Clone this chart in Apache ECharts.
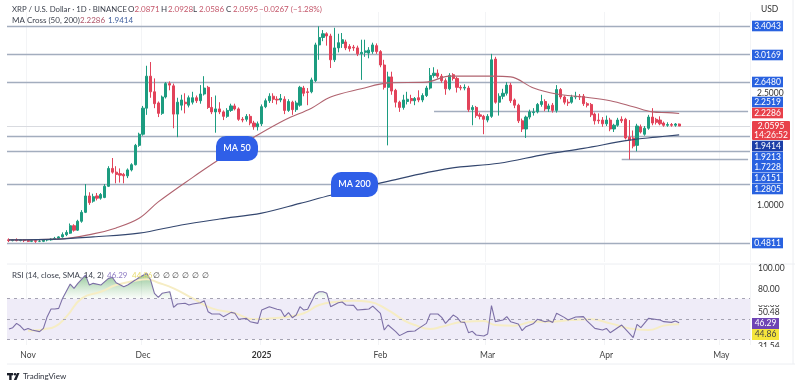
<!DOCTYPE html>
<html><head><meta charset="utf-8">
<style>html,body{margin:0;padding:0;background:#fff}#c{width:800px;height:387px}</style>
<script src="https://cdn.jsdelivr.net/npm/echarts@6/dist/echarts.min.js"></script>
</head><body><div id="c"></div>
<script>
const categories = [
'10-27','10-28','10-29','10-30','10-31',
'11-01','11-02','11-03','11-04','11-05','11-06','11-07','11-08','11-09','11-10','11-11','11-12','11-13','11-14','11-15','11-16','11-17','11-18','11-19','11-20','11-21','11-22','11-23','11-24','11-25','11-26','11-27','11-28','11-29','11-30',
'12-01','12-02','12-03','12-04','12-05','12-06','12-07','12-08','12-09','12-10','12-11','12-12','12-13','12-14','12-15','12-16','12-17','12-18','12-19','12-20','12-21','12-22','12-23','12-24','12-25','12-26','12-27','12-28','12-29','12-30','12-31',
'01-01','01-02','01-03','01-04','01-05','01-06','01-07','01-08','01-09','01-10','01-11','01-12','01-13','01-14','01-15','01-16','01-17','01-18','01-19','01-20','01-21','01-22','01-23','01-24','01-25','01-26','01-27','01-28','01-29','01-30','01-31',
'02-01','02-02','02-03','02-04','02-05','02-06','02-07','02-08','02-09','02-10','02-11','02-12','02-13','02-14','02-15','02-16','02-17','02-18','02-19','02-20','02-21','02-22','02-23','02-24','02-25','02-26','02-27','02-28',
'03-01','03-02','03-03','03-04','03-05','03-06','03-07','03-08','03-09','03-10','03-11','03-12','03-13','03-14','03-15','03-16','03-17','03-18','03-19','03-20','03-21','03-22','03-23','03-24','03-25','03-26','03-27','03-28','03-29','03-30','03-31',
'04-01','04-02','04-03','04-04','04-05','04-06','04-07','04-08','04-09','04-10','04-11','04-12','04-13','04-14','04-15','04-16','04-17','04-18','04-19','04-20','04-21','04-22','04-23','04-24','04-25','04-26','04-27','04-28','04-29','04-30',
'05-01','05-02','05-03','05-04','05-05','05-06','05-07','05-08'];
const monthLabels = {'11-01':'Nov','12-01':'Dec','01-01':'2025','02-01':'Feb','03-01':'Mar','04-01':'Apr','05-01':'May'};
// open, close, low, high
const candles = [
[.53,.52,.50,.55],[.52,.53,.51,.54],[.53,.52,.51,.55],[.52,.53,.51,.54],[.53,.52,.50,.54],[.52,.51,.50,.53],[.51,.52,.50,.53],[.52,.51,.49,.52],[.51,.51,.50,.53],[.51,.53,.50,.54],
[.53,.53,.51,.54],[.53,.54,.52,.55],[.54,.55,.53,.57],[.55,.57,.54,.58],[.57,.60,.56,.63],[.60,.63,.58,.66],[.62,.72,.61,.75],[.72,.66,.64,.74],[.66,.78,.65,.80],[.78,.90,.76,.93],
[.90,1.12,.89,1.28],[1.12,1.03,1.00,1.17],[1.05,1.11,1.03,1.15],[1.12,1.09,1.06,1.16],[1.09,1.14,1.07,1.16],[1.10,1.25,1.09,1.28],[1.25,1.49,1.24,1.52],[1.49,1.44,1.42,1.63],[1.44,1.41,1.29,1.52],[1.42,1.40,1.30,1.49],
[1.41,1.39,1.29,1.43],[1.39,1.47,1.36,1.49],[1.47,1.54,1.45,1.56],[1.54,1.80,1.53,1.82],[1.80,1.95,1.78,1.97],[1.95,2.30,1.93,2.33],[2.30,2.73,2.21,2.87],[2.73,2.52,2.44,2.92],[2.52,2.36,2.30,2.70],[2.37,2.23,2.18,2.39],
[2.23,2.45,2.21,2.47],[2.45,2.63,2.43,2.65],[2.63,2.61,2.54,2.66],[2.60,2.22,2.03,2.63],[2.22,2.38,1.91,2.44],[2.34,2.41,2.27,2.48],[2.38,2.36,2.23,2.50],[2.34,2.44,2.31,2.47],[2.38,2.44,2.35,2.52],[2.44,2.40,2.37,2.47],
[2.40,2.49,2.36,2.61],[2.49,2.57,2.47,2.73],[2.58,2.31,2.29,2.60],[2.31,2.25,2.22,2.45],[2.25,2.29,1.97,2.47],[2.29,2.25,2.22,2.38],[2.25,2.19,2.14,2.27],[2.19,2.27,2.17,2.30],[2.27,2.33,2.25,2.36],[2.33,2.29,2.27,2.36],
[2.29,2.15,2.13,2.31],[2.15,2.14,2.11,2.18],[2.15,2.19,2.12,2.22],[2.19,2.10,2.07,2.22],[2.10,2.05,2.01,2.13],[2.05,2.09,2.00,2.12],[2.09,2.32,2.06,2.35],[2.32,2.40,2.30,2.43],[2.40,2.46,2.37,2.50],[2.46,2.42,2.37,2.50],
[2.42,2.41,2.35,2.46],[2.41,2.43,2.38,2.49],[2.42,2.27,2.22,2.46],[2.27,2.39,2.25,2.42],[2.38,2.28,2.21,2.40],[2.28,2.37,2.25,2.40],[2.34,2.58,2.32,2.60],[2.57,2.50,2.46,2.60],[2.52,2.51,2.34,2.57],[2.52,2.68,2.50,2.71],
[2.67,3.15,2.65,3.18],[3.15,3.25,2.95,3.40],[3.25,3.30,3.20,3.35],[3.30,3.27,3.14,3.32],[3.27,2.95,2.84,3.30],[2.95,3.11,2.92,3.38],[3.11,3.18,3.05,3.30],[3.17,3.22,3.11,3.31],[3.19,3.11,3.08,3.22],[3.13,3.10,3.06,3.16],
[3.12,3.11,3.07,3.15],[3.11,3.03,3.00,3.14],[3.03,3.05,2.68,3.22],[3.05,3.07,2.99,3.22],[3.04,3.08,2.97,3.12],[3.06,3.15,3.03,3.18],[3.14,3.06,3.03,3.17],[3.06,2.88,2.85,3.08],[2.88,2.58,2.55,2.95],[2.58,2.72,1.80,2.79],
[2.72,2.53,2.48,2.79],[2.54,2.38,2.31,2.56],[2.38,2.31,2.25,2.40],[2.31,2.41,2.28,2.48],[2.39,2.42,2.35,2.52],[2.43,2.40,2.36,2.48],[2.40,2.43,2.34,2.45],[2.44,2.41,2.38,2.54],[2.41,2.47,2.38,2.50],[2.47,2.57,2.45,2.60],
[2.57,2.74,2.55,2.84],[2.74,2.77,2.71,2.85],[2.77,2.73,2.70,2.82],[2.73,2.67,2.64,2.76],[2.67,2.56,2.48,2.70],[2.56,2.74,2.54,2.77],[2.75,2.70,2.67,2.77],[2.70,2.58,2.51,2.72],[2.58,2.57,2.54,2.61],[2.57,2.58,2.54,2.62],
[2.57,2.28,2.25,2.60],[2.28,2.31,2.07,2.34],[2.31,2.20,2.17,2.33],[2.21,2.19,2.15,2.24],[2.19,2.15,1.95,2.21],[2.14,2.19,2.11,2.22],[2.19,2.95,2.17,3.03],[2.96,2.38,2.36,2.99],[2.38,2.46,2.20,2.50],[2.46,2.50,2.42,2.56],
[2.50,2.61,2.47,2.65],[2.61,2.40,2.37,2.64],[2.41,2.34,2.30,2.43],[2.34,2.13,2.10,2.36],[2.13,2.02,1.98,2.16],[2.02,2.18,1.90,2.20],[2.18,2.25,2.15,2.28],[2.24,2.25,2.20,2.30],[2.25,2.35,2.23,2.37],[2.35,2.39,2.32,2.48],
[2.39,2.29,2.26,2.42],[2.29,2.33,2.25,2.36],[2.34,2.27,2.24,2.37],[2.27,2.55,2.24,2.61],[2.55,2.45,2.42,2.57],[2.45,2.38,2.35,2.47],[2.38,2.37,2.33,2.42],[2.38,2.45,2.36,2.48],[2.45,2.46,2.42,2.52],[2.46,2.45,2.41,2.49],
[2.46,2.36,2.33,2.49],[2.36,2.34,2.31,2.38],[2.35,2.21,2.18,2.37],[2.22,2.13,2.08,2.24],[2.14,2.13,2.09,2.23],[2.14,2.09,2.05,2.18],[2.09,2.14,2.06,2.20],[2.14,2.02,1.99,2.17],[2.02,2.07,1.98,2.09],[2.07,2.14,2.05,2.17],
[2.15,2.13,2.10,2.19],[2.15,1.90,1.88,2.17],[1.91,1.87,1.61,2.14],[1.90,1.79,1.76,2.00],[1.80,2.06,1.72,2.09],[2.05,1.98,1.96,2.08],[1.95,2.03,1.93,2.06],[2.03,2.18,2.01,2.21],[2.18,2.10,2.07,2.30],[2.15,2.11,2.08,2.17],
[2.14,2.09,2.07,2.19],[2.10,2.07,2.05,2.12],[2.07,2.08,2.05,2.11],[2.08,2.07,2.05,2.10],[2.07,2.0871,2.05,2.10],[2.0871,2.0595,2.0586,2.0928]];
// readings: [day index, value]
const ma50 = [[0,.53],[13,.54],[22,.61],[28,.69],[34,.82],[39,1.04],[48,1.37],[54,1.58],[59,1.75],[64,1.91],[72,2.14],[79,2.30],[84,2.45],[92,2.56],[99,2.64],[109,2.65],[115,2.73],[120,2.73],[126,2.73],[131,2.72],[137,2.57],[143,2.49],[150,2.45],[157,2.40],[163,2.32],[168,2.25],[172,2.24],[175,2.2286]];
const ma200 = [[0,.53],[13,.54],[22,.57],[34,.62],[45,.73],[55,.81],[66,.89],[76,1.02],[84,1.13],[100,1.33],[115,1.49],[128,1.56],[140,1.68],[150,1.76],[162,1.87],[169,1.91],[175,1.9414]];
const rsi = [[0,40.2],[1,41.5],[2,45.7],[3,43.1],[4,39.2],[5,40.8],[6,39.2],[8,37.6],[9,40.8],[10,52.3],[11,59.8],[12,59.8],[13,60.4],[14,70.2],[16,84.3],[17,80.1],[18,85],[20,93.1],[21,83.3],[22,85],[24,83.3],[26,89.9],[27,90.8],[28,85.6],[30,81.7],[31,83.3],[33,88.2],[34,90.8],[36,94.8],[37,88.2],[38,75.2],[39,71.2],[40,75.2],[42,76.8],[43,61.4],[44,64.7],[46,65.4],[47,63.7],[48,64.7],[50,66],[51,68],[52,57.2],[53,54.9],[55,54.9],[56,52.3],[58,56.5],[59,55.6],[60,49.7],[62,50.6],[63,47.4],[65,45.7],[66,58.8],[68,62],[70,59.5],[71,58.8],[72,52.3],[73,56.2],[74,51.3],[75,53.9],[76,62.1],[77,58.8],[78,59.5],[80,74.5],[81,76.8],[82,76.8],[83,75.2],[84,62.1],[86,66],[87,66.7],[88,63.7],[90,63.4],[91,58.8],[93,59.5],[94,59.8],[95,62.7],[97,55.6],[98,39.2],[99,44.1],[101,37.6],[102,33.7],[104,37.6],[106,38.2],[107,40.8],[109,45.7],[110,54.9],[112,54.9],[113,51.6],[114,45.7],[116,53.9],[117,51.6],[118,47],[119,46.7],[120,36.6],[121,37.9],[122,34.3],[124,33.3],[125,35.3],[126,63.1],[127,47.4],[129,49],[130,52.3],[131,47.4],[133,45.1],[134,38.6],[135,42.5],[137,45.7],[138,49.7],[140,47.4],[141,48.4],[142,46.7],[143,55.6],[145,51.6],[146,49],[148,52],[150,52.3],[151,48],[153,40.8],[155,39.2],[156,40.8],[157,36.6],[160,44.1],[162,36],[163,31.7],[164,44.8],[165,41.5],[167,50.6],[170,49],[171,47.4],[173,46.7],[174,48],[175,46.29]];
const rsiMa = [[5,38.5],[8,39.2],[9,39.9],[12,42.5],[15,52.3],[19,70.2],[24,76.8],[28,83.3],[33,87.6],[36,88.9],[39,85.6],[43,80.1],[48,70.2],[53,60.4],[59,55.6],[64,49.7],[68,50.6],[73,52.3],[77,55.6],[81,63.7],[86,67],[90,68],[94,67],[99,58.8],[103,49],[106,44.1],[110,40.2],[113,42.5],[119,47.4],[124,48],[127,44.1],[132,43.5],[137,47.4],[141,47.4],[147,49],[152,49.7],[157,45.7],[162,40.8],[167,39.2],[171,43.5],[175,44.86]];
const fullLevels = [3.4043,3.0169,2.6480,1.9213,1.7228,1.2805,0.4811];
const partLevels = [[111,2.2519],[160,1.6151]];
const lastPrice = 2.0595;
const rsiLevels = [70,50,30];
const rsiBand = [70,30];

const font = 'Lato, "Noto Sans", sans-serif';
const UP = '#1c9c80', DOWN = '#e2435a', LEVEL = '#a3adbe';
const tagX = 752, tagW = 31, tagH = 10.6;
// label text, centre row in px, fill
const tagRows = [
 ['3.4043',26,'#2962e0'],['3.0169',55,'#2962e0'],['2.6480',82,'#2962e0'],['2.2519',102,'#2962e0'],['2.2286',113,'#e8404a'],
 ['1.9414',146,'#1c3fa8'],['1.9213',157,'#2962e0'],['1.7228',167,'#2962e0'],['1.6151',178,'#2962e0'],['1.2805',189,'#2962e0'],['0.4811',243,'#2962e0']];

function txt(x,y,s,fill,extra){return {type:'text',z:20,style:Object.assign({x:x,y:y,text:s,fill:fill,fontSize:8.5,fontFamily:font,textVerticalAlign:'middle'},extra||{})};}
const h = {fontSize:8};
const g = [];
g.push(txt(12,9,'XRP / U.S. Dollar · 1D · BINANCE','#3a3f4b',{fontSize:7.8}));
g.push(txt(128,9,'O','#3a3f4b',h),txt(134.5,9,'2.0871','#c4566a',h));
g.push(txt(161,9,'H','#3a3f4b',h),txt(168,9,'2.0928','#c4566a',h));
g.push(txt(193,9,'L','#3a3f4b',h),txt(199,9,'2.0586','#c4566a',h));
g.push(txt(226,9,'C','#3a3f4b',h),txt(233,9,'2.0595','#c4566a',h));
g.push(txt(259,9,'−0.0267 (−1.28%)','#c4566a',h));
g.push(txt(12,20,'MA Cross (50, 200)','#3a3f4b',h),txt(80,20,'2.2286','#b0566a',h),txt(108,20,'1.9414','#3f5f9e',h));
g.push(txt(761,9,'USD','#333'));
// price tags
tagRows.forEach(r=>{
 g.push({type:'rect',z:18,shape:{x:tagX,y:r[1]-tagH/2,width:tagW,height:tagH},style:{fill:r[2]}});
 g.push(txt(tagX+tagW/2,r[1],r[0],'#fff',{textAlign:'center'}));
});
g.push({type:'rect',z:18,shape:{x:752,y:121,width:38,height:19,r:1},style:{fill:'#e8404a'}});
g.push(txt(771,126,'2.0595','#fff',{textAlign:'center'}),txt(771,135,'14:26:52','#fff',{textAlign:'center'}));
// bubbles
[['MA 50',216,136,42,25],['MA 200',331,172,47,25]].forEach(b=>{
 g.push({type:'rect',z:15,shape:{x:b[1],y:b[2],width:b[3],height:b[4],r:[10,10,10,1]},style:{fill:'#2f5fe8'}});
 g.push(txt(b[1]+b[3]/2,b[2]+b[4]/2,b[0],'#fff',{textAlign:'center',fontSize:9,fontWeight:600}));
});
// RSI texts
g.push(txt(12,275,'RSI (14, close, SMA, 14, 2)','#3a3f4b',h),txt(107,275,'46.29','#8f7cc4',h),txt(132,275,'44.86','#e8dc70',h));
[156,166,175,185,195,205].forEach(x=>g.push(txt(x,275,'∅','#444',{textAlign:'center',fontSize:8})));
g.push(txt(758,268,'100.00','#333'),txt(758,289,'80.00','#333'),txt(758,312,'50.48','#333'));
g.push(txt(758,304,'60.00','#333'),{type:'rect',z:21,shape:{x:755,y:296,width:30,height:9},style:{fill:'#fff'}});
g.push(txt(758,346,'31.54','#333'),{type:'rect',z:21,shape:{x:755,y:347,width:30,height:6},style:{fill:'#fff'}});
g.push({type:'rect',z:18,shape:{x:752,y:318,width:27,height:11},style:{fill:'#6f45b5'}},txt(765.5,323.5,'46.29','#fff',{textAlign:'center'}));
g.push({type:'rect',z:18,shape:{x:752,y:329,width:27,height:11},style:{fill:'#f5e63c'}},txt(765.5,334.5,'44.86','#444',{textAlign:'center'}));
// frame lines
[[7,264,795,264],[7,364,795,364],[793,0,793,364]].forEach(l=>g.push({type:'line',z:1,shape:{x1:l[0],y1:l[1],x2:l[2],y2:l[3]},style:{stroke:'#eceef2',lineWidth:1}}));
// brand
g.push({type:'rect',z:5,shape:{x:7,y:373,width:6,height:2.4},style:{fill:'#1b1f2a'}});
g.push({type:'rect',z:5,shape:{x:9.2,y:373,width:2.4,height:7},style:{fill:'#1b1f2a'}});
g.push({type:'circle',z:5,shape:{cx:15,cy:374.3,r:1.3},style:{fill:'#1b1f2a'}});
g.push({type:'polygon',z:5,shape:{points:[[17,373],[19.5,373],[16.5,380],[13.8,380]]},style:{fill:'#1b1f2a'}});
g.push(txt(23,376.5,'TradingView','#30343f',{fontSize:8}));

const isMonth = (i,v)=>monthLabels[v]!==undefined;
const pair = a=>a.map(p=>[p[0],p[1]]);
const chart = echarts.init(document.getElementById('c'),null,{renderer:'canvas'});
chart.setOption({
 animation:false,backgroundColor:'#fff',
 grid:[{left:7,width:743,top:12,height:250},{left:7,width:743,top:265,height:80}],
 xAxis:[
  {type:'category',gridIndex:0,data:categories,boundaryGap:true,axisLine:{show:false},axisTick:{show:false},axisLabel:{show:false},
   splitLine:{show:true,interval:isMonth,lineStyle:{color:'#f3f4f6',width:1}}},
  {type:'category',gridIndex:1,data:categories,boundaryGap:true,axisLine:{show:false},axisTick:{show:false},
   axisLabel:{interval:isMonth,hideOverlap:false,margin:6,fontFamily:font,fontSize:8.5,color:'#444',
     formatter:v=>v==='01-01'?'{b|2025}':(monthLabels[v]||''),rich:{b:{fontWeight:'bold',fontSize:8.5,color:'#333',fontFamily:font}}},
   splitLine:{show:true,interval:isMonth,lineStyle:{color:'#f3f4f6',width:1}}}
 ],
 yAxis:[
  {type:'value',gridIndex:0,position:'right',min:0.2324,max:3.5925,axisLine:{show:false},axisTick:{show:false},splitLine:{show:false},
   axisLabel:{customValues:[1,2.5],formatter:v=>v.toFixed(4),fontFamily:font,fontSize:8.5,color:'#333',margin:7}},
  {type:'value',gridIndex:1,position:'right',min:24.5,max:103,axisLine:{show:false},axisTick:{show:false},splitLine:{show:false},axisLabel:{show:false}}
 ],
 series:[
  {type:'candlestick',name:'XRP',xAxisIndex:0,yAxisIndex:0,barWidth:2.6,data:candles,z:5,
   itemStyle:{color:UP,color0:DOWN,borderColor:UP,borderColor0:DOWN,borderWidth:1},
   markLine:{silent:true,symbol:'none',z:3,label:{show:false},animation:false,
    data:[...fullLevels.map(v=>({yAxis:v,lineStyle:{color:LEVEL,width:1.4,type:'solid'}})),
      ...partLevels.map(p=>[{coord:[p[0],p[1]],lineStyle:{color:LEVEL,width:1.4,type:'solid'}},{coord:[193,p[1]]}]),
      {yAxis:lastPrice,lineStyle:{color:'#d9dbe0',width:1,type:'solid'}}]}},
  {type:'line',name:'MA50',xAxisIndex:0,yAxisIndex:0,data:pair(ma50),showSymbol:false,smooth:0.35,z:6,lineStyle:{color:'#b0636f',width:1.1}},
  {type:'line',name:'MA200',xAxisIndex:0,yAxisIndex:0,data:pair(ma200),showSymbol:false,smooth:0.35,z:6,lineStyle:{color:'#34476f',width:1.2}},
  {type:'line',name:'RSI band',xAxisIndex:1,yAxisIndex:1,data:[],
   markArea:{silent:true,itemStyle:{color:'#efecf8'},data:[[{yAxis:rsiBand[0]},{yAxis:rsiBand[1]}]]},
   markLine:{silent:true,symbol:'none',label:{show:false},animation:false,lineStyle:{color:'#a5a3b3',type:[3,4],width:1},data:rsiLevels.map(v=>({yAxis:v}))}},
  {type:'line',name:'RSI over',xAxisIndex:1,yAxisIndex:1,data:rsi.map(p=>[p[0],Math.max(p[1],70)]),showSymbol:false,z:3,lineStyle:{width:0},
   areaStyle:{origin:70,color:new echarts.graphic.LinearGradient(0,0,0,1,[{offset:0,color:'rgba(60,150,70,.85)'},{offset:1,color:'rgba(120,190,120,.05)'}])}},
  {type:'line',name:'RSI MA',xAxisIndex:1,yAxisIndex:1,data:pair(rsiMa),showSymbol:false,smooth:true,z:4,lineStyle:{color:'#f6edc4',width:2}},
  {type:'line',name:'RSI',xAxisIndex:1,yAxisIndex:1,data:pair(rsi),showSymbol:false,z:5,lineStyle:{color:'#7c6fa6',width:1.1}}
 ],
 graphic:g
});
</script></body></html>
